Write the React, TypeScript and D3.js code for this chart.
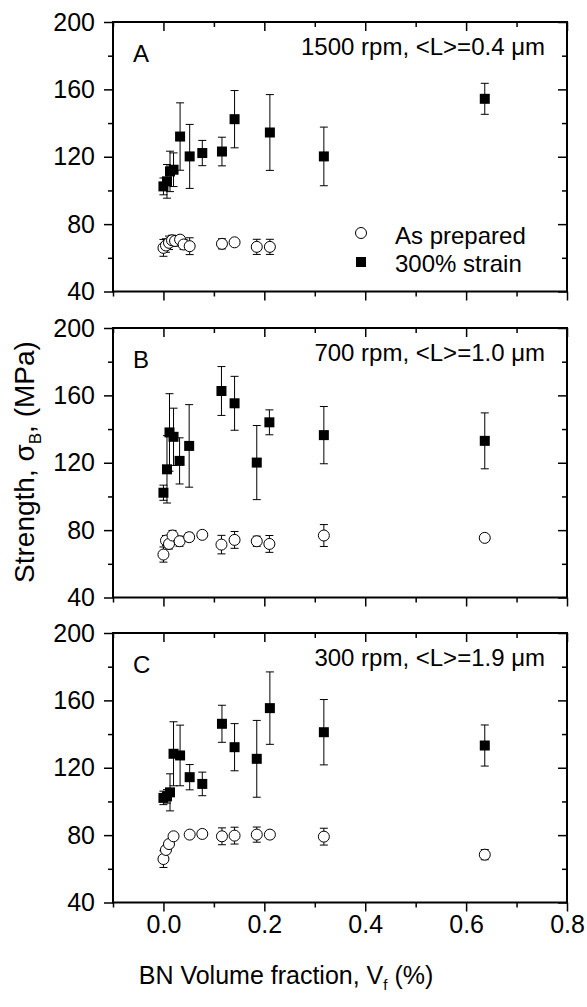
import * as d3 from "d3";
import {useEffect, useRef} from "react";

// x = BN volume fraction (%), y = strength (MPa), err = half error bar
// Panel A, 1500 rpm
const strainXA = [0, 0.007, 0.013, 0.02, 0.033, 0.052, 0.077, 0.116, 0.141, 0.211, 0.318, 0.637];
const strainYA = [102.4, 105.4, 111.3, 112.3, 132, 120.2, 122.2, 123.1, 142.3, 134.4, 120.2, 154.4];
const strainErrA = [5, 10, 12, 10, 20, 19, 7.5, 8.5, 17, 22.5, 17.4, 9.2];
const prepXA = [0, 0.005, 0.011, 0.017, 0.023, 0.033, 0.04, 0.052, 0.116, 0.141, 0.185, 0.211];
const prepYA = [65.9, 67.3, 68.9, 70.4, 70.0, 70.8, 67.9, 66.9, 68.3, 69.2, 66.5, 66.5];
const prepErrA = [5, 4, 4, 3, 3, 2, 3, 5, 3, 1, 4.5, 4.5];

// Panel B, 700 rpm
const strainXB = [0, 0.007, 0.012, 0.02, 0.032, 0.051, 0.115, 0.141, 0.185, 0.21, 0.318, 0.637];
const strainYB = [102.2, 116.1, 138, 135.4, 121.1, 130, 162.6, 155.3, 120.1, 144, 136.4, 133];
const strainErrB = [4.5, 20, 23, 17, 13.7, 24.5, 14.5, 16, 22, 7.4, 17, 16.6];
const prepXB = [0, 0.005, 0.011, 0.018, 0.032, 0.051, 0.077, 0.115, 0.141, 0.185, 0.21, 0.318, 0.637];
const prepYB = [65.5, 73.8, 71.8, 76.8, 73.4, 75.8, 77.2, 71.4, 74.2, 73.4, 71.8, 76.8, 75.4];
const prepErrB = [4.5, 3, 3, 3, 3, 2.5, 0, 5.5, 5, 3, 5, 6.5, 0];

// Panel C, 300 rpm
const strainXC = [0, 0.007, 0.013, 0.02, 0.033, 0.052, 0.077, 0.116, 0.141, 0.185, 0.211, 0.318, 0.637];
const strainYC = [102.1, 103, 105.4, 128.3, 127.3, 114.4, 110.4, 146.1, 132.2, 125.3, 155.4, 141.1, 133.2];
const strainErrC = [4, 4, 11, 19, 18, 7.5, 7, 11, 14, 22.8, 21.5, 19.4, 12.2];
const prepXC = [0, 0.005, 0.011, 0.02, 0.052, 0.077, 0.116, 0.141, 0.185, 0.211, 0.318, 0.637];
const prepYC = [65.8, 71.2, 74.7, 79.3, 80.3, 80.7, 79.3, 79.7, 80.3, 80.3, 79.1, 68.4];
const prepErrC = [5, 2, 2, 2, 0, 0, 5, 5, 4.5, 0, 5, 3];

const panelLabels = ["A", "B", "C"];
const panelNotes = ["1500 rpm, <L>=0.4 μm", "700 rpm, <L>=1.0 μm", "300 rpm, <L>=1.9 μm"];
const legendLabels = ["As prepared", "300% strain"];
const yMajor = [40, 80, 120, 160, 200];
const yMinor = [60, 100, 140, 180];
const xMajor = [0, 0.2, 0.4, 0.6, 0.8];
const xMinor = [-0.1, 0.1, 0.3, 0.5, 0.7];

const W = 587;
const H = 1007;
const FONT = "'Liberation Sans', Arial, sans-serif";

const App = () => {
	const svgRef = useRef(null);

	useEffect(() => {
		document.body.style.margin = "0";
		const svg = d3.select(svgRef.current).attr("width", W).attr("height", H);
		svg.selectAll("*").remove();

		const x = d3.scaleLinear().domain([-0.1, 0.8]).range([113, 567]);
		const tops = [22, 328, 633];
		const ph = 269.5;

		const zip = (xs, ys, es) => xs.map((v, i) => ({x: v, y: ys[i], e: es[i]}));
		const panels = [
			{strain: zip(strainXA, strainYA, strainErrA), prep: zip(prepXA, prepYA, prepErrA)},
			{strain: zip(strainXB, strainYB, strainErrB), prep: zip(prepXB, prepYB, prepErrB)},
			{strain: zip(strainXC, strainYC, strainErrC), prep: zip(prepXC, prepYC, prepErrC)},
		];

		const styleAxis = (g) => {
			g.select(".domain").remove();
			g.selectAll(".tick line").attr("stroke", "#000").attr("stroke-width", 1.5);
			g.selectAll(".tick text")
				.attr("font-family", FONT)
				.attr("font-size", 25)
				.attr("fill", "#000");
		};

		panels.forEach((p, pi) => {
			const top = tops[pi];
			const bottom = top + ph;
			const y = d3.scaleLinear().domain([40, 200]).range([bottom, top]);
			const g = svg.append("g");

			// axes
			g.append("g").attr("transform", `translate(${x(-0.1)},0)`)
				.call(d3.axisLeft(y).tickValues(yMajor).tickSize(9).tickPadding(9).tickFormat(d3.format("d")))
				.call(styleAxis);
			g.append("g").attr("transform", `translate(${x(-0.1)},0)`)
				.call(d3.axisLeft(y).tickValues(yMinor).tickSize(5).tickFormat(() => ""))
				.call(styleAxis);
			g.append("g").attr("transform", `translate(${x(0.8)},0)`)
				.call(d3.axisRight(y).tickValues(yMajor).tickSize(-9).tickFormat(() => ""))
				.call(styleAxis);
			g.append("g").attr("transform", `translate(${x(0.8)},0)`)
				.call(d3.axisRight(y).tickValues(yMinor).tickSize(-5).tickFormat(() => ""))
				.call(styleAxis);
			g.append("g").attr("transform", `translate(0,${top})`)
				.call(d3.axisTop(x).tickValues(xMajor).tickSize(-9).tickFormat(() => ""))
				.call(styleAxis);
			g.append("g").attr("transform", `translate(0,${top})`)
				.call(d3.axisTop(x).tickValues(xMinor).tickSize(-5).tickFormat(() => ""))
				.call(styleAxis);
			g.append("g").attr("transform", `translate(0,${bottom})`)
				.call(d3.axisBottom(x).tickValues(xMajor).tickSize(9).tickPadding(4)
					.tickFormat(pi === 2 ? d3.format(".1f") : () => ""))
				.call(styleAxis);
			g.append("g").attr("transform", `translate(0,${bottom})`)
				.call(d3.axisBottom(x).tickValues(xMinor).tickSize(5).tickFormat(() => ""))
				.call(styleAxis);

			// frame
			g.append("rect")
				.attr("x", x(-0.1)).attr("y", top)
				.attr("width", x(0.8) - x(-0.1)).attr("height", ph)
				.attr("fill", "none").attr("stroke", "#000").attr("stroke-width", 2);

			// error bars
			const all = [...p.prep, ...p.strain].filter((d) => d.e > 0);
			const eb = g.append("g").attr("stroke", "#000").attr("stroke-width", 1);
			eb.selectAll("line.v").data(all).join("line")
				.attr("x1", (d) => x(d.x)).attr("x2", (d) => x(d.x))
				.attr("y1", (d) => y(d.y + d.e)).attr("y2", (d) => y(d.y - d.e));
			eb.selectAll("line.t").data(all).join("line")
				.attr("x1", (d) => x(d.x) - 4).attr("x2", (d) => x(d.x) + 4)
				.attr("y1", (d) => y(d.y + d.e)).attr("y2", (d) => y(d.y + d.e));
			eb.selectAll("line.b").data(all).join("line")
				.attr("x1", (d) => x(d.x) - 4).attr("x2", (d) => x(d.x) + 4)
				.attr("y1", (d) => y(d.y - d.e)).attr("y2", (d) => y(d.y - d.e));

			// markers
			g.append("g").selectAll("circle").data(p.prep).join("circle")
				.attr("cx", (d) => x(d.x)).attr("cy", (d) => y(d.y)).attr("r", 5.5)
				.attr("fill", "#fff").attr("stroke", "#000").attr("stroke-width", 1);
			g.append("g").selectAll("rect").data(p.strain).join("rect")
				.attr("x", (d) => x(d.x) - 5).attr("y", (d) => y(d.y) - 5)
				.attr("width", 10).attr("height", 10).attr("fill", "#000");

			// labels
			g.append("text").attr("x", 133).attr("y", top + 40)
				.attr("font-family", FONT).attr("font-size", 24).text(panelLabels[pi]);
			g.append("text").attr("x", 545).attr("y", top + 33).attr("text-anchor", "end")
				.attr("font-family", FONT).attr("font-size", 24).text(panelNotes[pi]);
		});

		// legend (panel A)
		const lg = svg.append("g");
		lg.append("circle").attr("cx", 361).attr("cy", 233).attr("r", 5.5)
			.attr("fill", "#fff").attr("stroke", "#000");
		lg.append("rect").attr("x", 356).attr("y", 257).attr("width", 10).attr("height", 10).attr("fill", "#000");
		lg.selectAll("text").data(legendLabels).join("text")
			.attr("x", 395).attr("y", (_, i) => 244 + i * 28)
			.attr("font-family", FONT).attr("font-size", 24).text((d) => d);

		// axis titles
		const xt = svg.append("text").attr("x", 286).attr("y", 984).attr("text-anchor", "middle")
			.attr("font-family", FONT).attr("font-size", 25);
		xt.append("tspan").text("BN Volume fraction, V");
		xt.append("tspan").attr("font-size", 15).attr("dy", 6).text("f");
		xt.append("tspan").attr("dy", -6).text(" (%)");

		const yt = svg.append("text").attr("transform", "translate(34,462) rotate(-90)")
			.attr("text-anchor", "middle").attr("font-family", FONT).attr("font-size", 28);
		yt.append("tspan").text("Strength, σ");
		yt.append("tspan").attr("font-size", 17).attr("dy", 7).text("B");
		yt.append("tspan").attr("dy", -7).text(", (MPa)");
	}, []);

	return <svg ref={svgRef}></svg>;
};

export default App;
